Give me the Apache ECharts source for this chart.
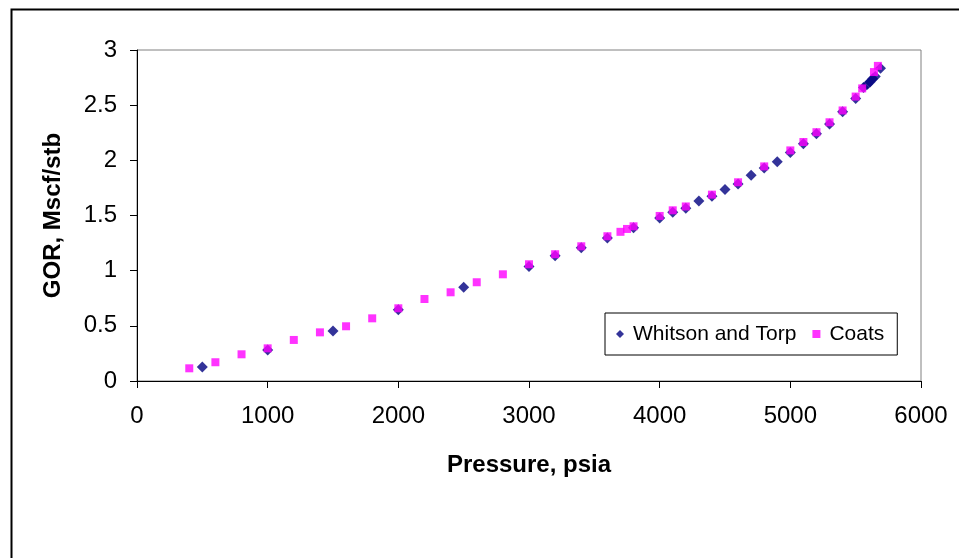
<!DOCTYPE html>
<html>
<head>
<meta charset="utf-8">
<script src="https://cdn.jsdelivr.net/npm/echarts@6/dist/echarts.min.js"></script>
<style>
html,body{margin:0;padding:0;background:#fff;}
#chart{width:959px;height:558px;}
</style>
</head>
<body>
<div id="chart"></div>
<script>
// Whitson and Torp
const whitsonPressure = [500,1000,1500,2000,2500,3000,3200,3400,3600,3800,4000,4100,4200,4300,4400,4500,4600,4700,4800,4900,5000,5100,5200,5300,5400,5500,5560,5590,5610,5630,5650,5690];
const whitsonGOR      = [0.127,0.281,0.453,0.645,0.849,1.038,1.135,1.208,1.295,1.39,1.478,1.53,1.566,1.632,1.675,1.735,1.786,1.864,1.93,1.988,2.07,2.15,2.24,2.33,2.44,2.56,2.66,2.69,2.71,2.74,2.76,2.835];
// Coats
const coatsPressure = [400,600,800,1000,1200,1400,1600,1800,2000,2200,2400,2600,2800,3000,3200,3400,3600,3700,3750,3800,4000,4100,4200,4400,4600,4800,5000,5100,5200,5300,5400,5500,5550,5640,5670];
const coatsGOR      = [0.115,0.17,0.242,0.296,0.372,0.441,0.496,0.568,0.659,0.743,0.804,0.895,0.967,1.058,1.149,1.221,1.312,1.352,1.378,1.402,1.496,1.547,1.582,1.689,1.801,1.945,2.09,2.166,2.255,2.345,2.452,2.578,2.652,2.80,2.856];

const xTicks = [0,1000,2000,3000,4000,5000,6000];
const yTicks = [0,0.5,1,1.5,2,2.5,3];

const FONT = "'Liberation Sans', Arial, sans-serif";
const pair = (xs, ys) => xs.map((x, i) => [x, ys[i]]);

const chart = echarts.init(document.getElementById('chart'), null, {renderer: 'canvas'});
chart.setOption({
  animation: false,
  backgroundColor: '#fff',
  graphic: [{
    type: 'rect', left: 9, top: 7, z: -1,
    shape: {width: 970, height: 570},
    style: {fill: 'none', stroke: '#000', lineWidth: 2}
  }],
  grid: {left: 137, top: 50, right: 38, bottom: 177, show: true, borderColor: '#808080', borderWidth: 1, backgroundColor: '#fff'},
  legend: {
    left: 605, top: 313,
    orient: 'horizontal',
    backgroundColor: '#fff',
    borderColor: '#000', borderWidth: 1, borderRadius: 0,
    padding: [10, 13, 10, 11],
    itemWidth: 8, itemHeight: 8, itemGap: 16,
    textStyle: {fontFamily: FONT, fontSize: 21, color: '#000', lineHeight: 22, padding: [0,0,0,4]},
    data: [{name: 'Whitson and Torp', icon: 'diamond'}, {name: 'Coats', icon: 'rect'}]
  },
  xAxis: {
    type: 'value', min: xTicks[0], max: xTicks[xTicks.length-1], interval: 1000,
    name: 'Pressure, psia', nameLocation: 'middle', nameGap: 72,
    nameTextStyle: {fontFamily: FONT, fontSize: 24, fontWeight: 'bold', color: '#000'},
    axisLine: {show: true, onZero: false, lineStyle: {color: '#000', width: 1}},
    axisTick: {show: true, inside: false, length: 7, lineStyle: {color: '#000'}},
    axisLabel: {fontFamily: FONT, fontSize: 24, color: '#000', margin: 23, formatter: v => String(v)},
    splitLine: {show: false}
  },
  yAxis: {
    type: 'value', min: yTicks[0], max: yTicks[yTicks.length-1], interval: 0.5,
    name: 'GOR, Mscf/stb', nameLocation: 'middle', nameGap: 72, nameRotate: 90,
    nameTextStyle: {fontFamily: FONT, fontSize: 24, fontWeight: 'bold', color: '#000'},
    axisLine: {show: true, onZero: false, lineStyle: {color: '#000', width: 1}},
    axisTick: {show: true, inside: false, length: 7, lineStyle: {color: '#000'}},
    axisLabel: {fontFamily: FONT, fontSize: 24, color: '#000', margin: 20, formatter: v => String(v)},
    splitLine: {show: false}
  },
  series: [
    {
      name: 'Whitson and Torp', type: 'scatter', symbol: 'diamond', symbolSize: 11,
      itemStyle: {color: '#000080'},
      data: pair(whitsonPressure, whitsonGOR), z: 2
    },
    {
      name: 'Coats', type: 'scatter', symbol: 'rect', symbolSize: 8,
      itemStyle: {color: '#FF00FF'},
      data: pair(coatsPressure, coatsGOR), z: 3
    }
  ]
});
</script>
</body>
</html>
